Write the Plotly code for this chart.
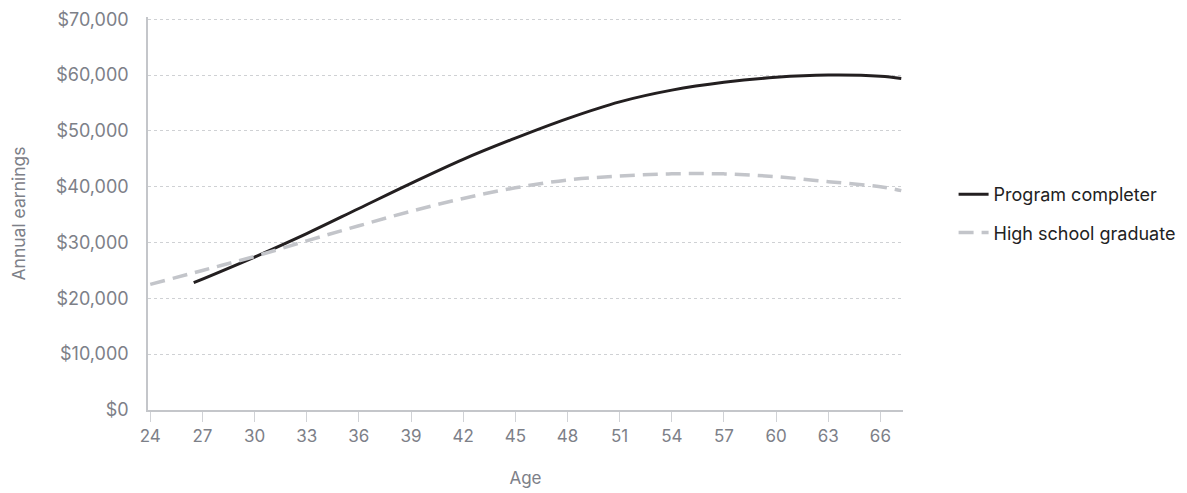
import plotly.graph_objects as go

# Program completer (ages, annual earnings)
completer_age = [26.5, 30, 33, 36, 39, 42, 45, 48, 51, 54, 57, 60, 63, 66, 67.2]
completer_earn = [22800, 27400, 31600, 36100, 40600, 44900, 48700, 52200, 55200,
                  57300, 58700, 59600, 60000, 59800, 59400]

# High school graduate
hs_age = [24, 27, 30, 33, 36, 39, 42, 45, 48, 51, 54, 57, 60, 63, 66, 67.2]
hs_earn = [22500, 25000, 27500, 30300, 33000, 35600, 37900, 39800, 41200, 41900,
           42300, 42300, 41800, 40900, 40000, 39300]

x_ticks = list(range(24, 67, 3))
y_ticks = list(range(0, 70001, 10000))

FONT = "Inter"
GRAY = "#7d8088"

fig = go.Figure()
fig.add_trace(go.Scatter(
    x=completer_age, y=completer_earn, mode="lines", name="Program completer",
    line=dict(color="#231f20", width=3, shape="spline", smoothing=1.0),
    legendgroup="a"))
fig.add_trace(go.Scatter(
    x=hs_age, y=hs_earn, mode="lines", name="High school graduate",
    line=dict(color="#c3c5ca", width=3.5, dash="15px,8px", shape="spline", smoothing=1.0),
    legendgroup="b"))

fig.update_layout(
    width=1187, height=493,
    margin=dict(l=140, r=292, t=9, b=91, autoexpand=False),
    plot_bgcolor="white", paper_bgcolor="white",
    font=dict(family=FONT, color=GRAY, size=17),
    showlegend=True,
    legend=dict(x=1.067, xanchor="left", y=0.5, yanchor="middle",
                font=dict(family=FONT, size=18, color="#222222"),
                tracegroupgap=12, traceorder="grouped"),
    xaxis=dict(
        range=[23.87, 67.3], tickvals=x_ticks, ticktext=[str(v) for v in x_ticks],
        showgrid=False, zeroline=False, automargin=False,
        showline=True, linecolor="#c4c6ca", linewidth=1.5,
        ticks="outside", ticklen=10, tickcolor="#d0d2d6", tickwidth=1,
        tickfont=dict(family=FONT, size=17, color=GRAY),
        title=dict(text="Age", font=dict(family=FONT, size=17, color=GRAY), standoff=27),
    ),
    yaxis=dict(
        range=[0, 70400], tickvals=y_ticks,
        ticktext=["$" + format(v, ",") for v in y_ticks],
        showgrid=True, gridcolor="#cfd1d4", gridwidth=1, griddash="dot",
        zeroline=False, automargin=False,
        showline=True, linecolor="#c4c6ca", linewidth=1.5,
        ticks="", ticklabelstandoff=14,
        tickfont=dict(family=FONT, size=18, color=GRAY),
        title=dict(text="Annual earnings", font=dict(family=FONT, size=17.5, color=GRAY), standoff=27),
    ),
)

fig.write_html("out.html")
